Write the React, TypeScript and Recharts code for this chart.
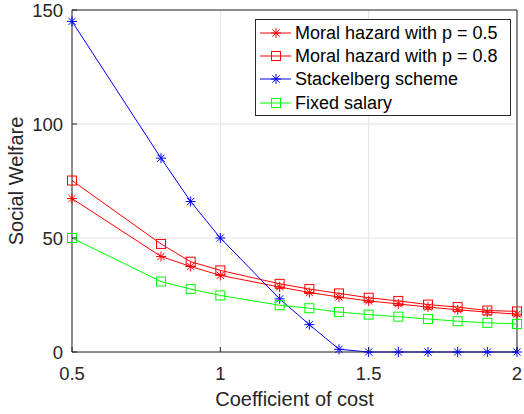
import React from 'react';
import { CartesianGrid, Label, Legend, Line, LineChart, ReferenceLine, XAxis, YAxis } from 'recharts';

// coefficient of cost (x values)
const costs = [0.5, 0.8, 0.9, 1, 1.2, 1.3, 1.4, 1.5, 1.6, 1.7, 1.8, 1.9, 2];
const moralHazard05 = [67.3, 41.9, 37.5, 33.6, 28.5, 26.1, 24.1, 22.4, 21.1, 19.7, 18.5, 17.5, 16.6];
const moralHazard08 = [75.2, 47.4, 39.6, 35.8, 29.9, 27.6, 25.7, 23.8, 22.4, 20.8, 19.7, 18.2, 17.8];
const stackelberg = [145, 85, 66, 50, 23.3, 12, 1.2, 0, 0, 0, 0, 0, 0];
const fixedSalary = [50, 30.9, 27.6, 24.8, 20.5, 19.2, 17.5, 16.4, 15.5, 14.5, 13.5, 12.8, 12.3];

const xTicks = [0.5, 1, 1.5, 2];
const yTicks = [0, 50, 100, 150];

const series = [
  { key: 'mh05', name: 'Moral hazard with p = 0.5', color: '#ff0000', marker: 'star' },
  { key: 'mh08', name: 'Moral hazard with p = 0.8', color: '#ff0000', marker: 'square' },
  { key: 'stack', name: 'Stackelberg scheme', color: '#0000ff', marker: 'star' },
  { key: 'fixed', name: 'Fixed salary', color: '#00ff00', marker: 'square' },
];

const data = costs.map((c, i) => ({
  cost: c,
  mh05: moralHazard05[i],
  mh08: moralHazard08[i],
  stack: stackelberg[i],
  fixed: fixedSalary[i],
}));

const font = '"Liberation Sans", Arial, Helvetica, sans-serif';
const axisColor = '#262626';

const Marker = ({ cx, cy, color, shape }: any) => {
  if (cx == null || cy == null) return <g />;
  if (shape === 'square') {
    return <rect x={cx - 4.5} y={cy - 4.5} width={9} height={9} fill="none" stroke={color} strokeWidth={1} />;
  }
  const r = 5;
  const d = r * 0.72;
  return (
    <g stroke={color} strokeWidth={1}>
      <line x1={cx - r} y1={cy} x2={cx + r} y2={cy} />
      <line x1={cx} y1={cy - r} x2={cx} y2={cy + r} />
      <line x1={cx - d} y1={cy - d} x2={cx + d} y2={cy + d} />
      <line x1={cx - d} y1={cy + d} x2={cx + d} y2={cy - d} />
    </g>
  );
};

const BottomTick = ({ x, y, payload }: any) => (
  <g>
    <line x1={x} x2={x} y1={y} y2={y - 5} stroke={axisColor} />
    <text x={x} y={y + 28} textAnchor="middle" fill={axisColor} fontSize={18.5} fontFamily={font}>
      {payload.value}
    </text>
  </g>
);

const TopTick = ({ x, y }: any) => <line x1={x} x2={x} y1={y} y2={y + 5} stroke={axisColor} />;

const LeftTick = ({ x, y, payload }: any) => (
  <g>
    <line x1={x} x2={x + 5} y1={y} y2={y} stroke={axisColor} />
    <text x={x - 9} y={y + 6.5} textAnchor="end" fill={axisColor} fontSize={18.5} fontFamily={font}>
      {payload.value}
    </text>
  </g>
);

const RightTick = ({ x, y }: any) => <line x1={x} x2={x - 5} y1={y} y2={y} stroke={axisColor} />;

const LegendBox = () => (
  <div
    style={{
      border: `1px solid ${axisColor}`,
      background: '#fff',
      width: 254,
      height: 94,
      paddingTop: 1,
      boxSizing: 'content-box',
      fontFamily: font,
      fontSize: 18,
      color: '#000',
    }}
  >
    {series.map((s) => (
      <div key={s.key} style={{ display: 'flex', alignItems: 'center', height: 23.4 }}>
        <svg width={39} height={20} style={{ flex: 'none' }}>
          <line x1={4} x2={35} y1={10} y2={10} stroke={s.color} />
          <Marker cx={20} cy={10} color={s.color} shape={s.marker} />
        </svg>
        <span style={{ whiteSpace: 'nowrap', lineHeight: '20px' }}>{s.name}</span>
      </div>
    ))}
  </div>
);

export default function App() {
  return (
    <div style={{ position: 'absolute', left: 0, top: 0, width: 524, height: 414, background: '#fff' }}>
      <LineChart width={524} height={414} data={data} margin={{ top: 10, right: 7, bottom: 0, left: 0 }}>
        <CartesianGrid stroke="#e3e3e3" />
        <XAxis
          dataKey="cost"
          type="number"
          domain={[0.5, 2]}
          ticks={xTicks}
          height={62}
          tickSize={0}
          tickMargin={0}
          tickLine={false}
          tick={<BottomTick />}
          stroke={axisColor}
          interval={0}
        >
          <Label
            content={({ viewBox }: any) => (
              <text
                x={viewBox.x + viewBox.width / 2}
                y={viewBox.y + 54}
                textAnchor="middle"
                fill={axisColor}
                fontSize={20}
                fontFamily={font}
              >
                Coefficient of cost
              </text>
            )}
          />
        </XAxis>
        <XAxis
          xAxisId="top"
          dataKey="cost"
          type="number"
          orientation="top"
          domain={[0.5, 2]}
          ticks={xTicks}
          height={0}
          tickSize={0}
          tickMargin={0}
          tickLine={false}
          tick={<TopTick />}
          stroke={axisColor}
          interval={0}
        />
        <YAxis
          type="number"
          domain={[0, 150]}
          ticks={yTicks}
          width={72}
          tickSize={0}
          tickMargin={0}
          tickLine={false}
          tick={<LeftTick />}
          stroke={axisColor}
          interval={0}
        >
          <Label
            content={({ viewBox }: any) => (
              <text
                x={viewBox.x + 16}
                y={viewBox.y + viewBox.height / 2}
                transform={`rotate(-90, ${viewBox.x + 16}, ${viewBox.y + viewBox.height / 2})`}
                textAnchor="middle"
                dominantBaseline="central"
                fill={axisColor}
                fontSize={20}
                fontFamily={font}
              >
                Social Welfare
              </text>
            )}
          />
        </YAxis>
        <YAxis
          yAxisId="right"
          orientation="right"
          type="number"
          domain={[0, 150]}
          ticks={yTicks}
          width={0}
          tickSize={0}
          tickMargin={0}
          tickLine={false}
          tick={<RightTick />}
          stroke={axisColor}
          interval={0}
        />
        {/* box edges (top and right) */}
        <ReferenceLine y={150} stroke={axisColor} ifOverflow="visible" />
        <ReferenceLine x={2} stroke={axisColor} ifOverflow="visible" />
        {series.map((s) => (
          <Line
            key={s.key}
            type="linear"
            dataKey={s.key}
            name={s.name}
            stroke={s.color}
            strokeWidth={1}
            isAnimationActive={false}
            activeDot={false}
            dot={(p: any) => <Marker key={`${s.key}-${p.index}`} cx={p.cx} cy={p.cy} color={s.color} shape={s.marker} />}
          />
        ))}
        <Legend
          layout="vertical"
          align="center"
          verticalAlign="middle"
          content={() => <LegendBox />}
          wrapperStyle={{ left: 255, top: 19, width: 256 }}
        />
      </LineChart>
    </div>
  );
}
